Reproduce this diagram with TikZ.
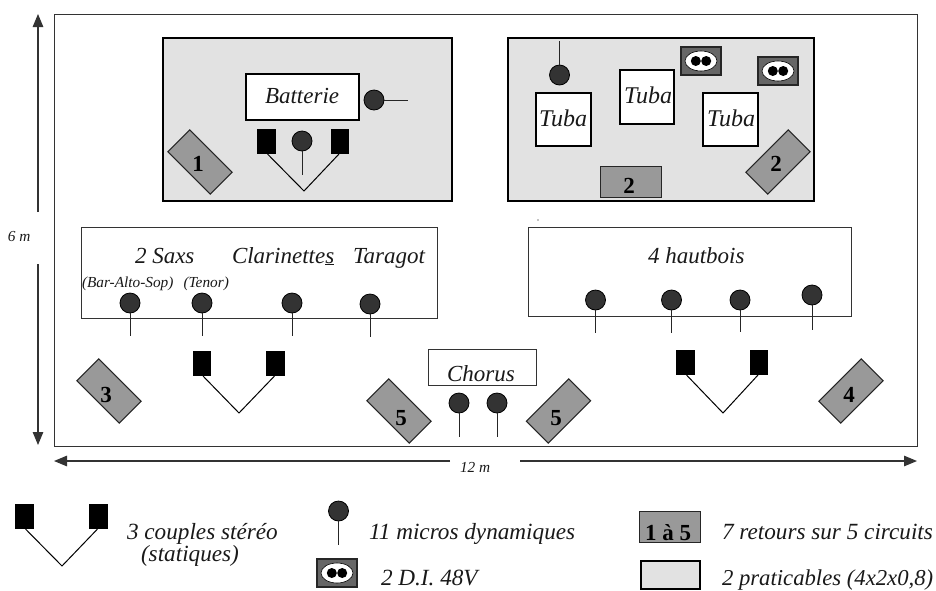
\documentclass[tikz,border=0pt]{standalone}
\usepackage{fontspec}
\setmainfont{Liberation Serif}
\usetikzlibrary{arrows.meta,shapes.geometric}
\definecolor{platgray}{HTML}{E2E2E2}
\definecolor{retgray}{HTML}{999999}
\definecolor{digray}{HTML}{666666}
\definecolor{micfill}{HTML}{333333}
\definecolor{linegray}{HTML}{333333}
\tikzset{
  stagebox/.style={draw=linegray,line width=1pt,fill=white,inner sep=0pt,outer sep=0pt},
  platbox/.style={draw=black,line width=2pt,fill=platgray,inner sep=0pt,outer sep=0pt},
  whitebox/.style={draw=black,line width=1.7pt,fill=white,inner sep=0pt,outer sep=0pt},
  retbox/.style={draw=black!85,line width=1pt,fill=retgray,inner sep=0pt,outer sep=0pt},
  dibox/.style={draw=black!85,line width=1.2pt,fill=digray,inner sep=0pt,outer sep=0pt},
  diewl/.style={ellipse,fill=white,draw=black,line width=.6pt,minimum width=32pt,minimum height=20pt,inner sep=0pt},
  didot/.style={circle,fill=black,minimum size=10pt,inner sep=0pt},
  micnode/.style={circle,draw=black,line width=.8pt,fill=micfill,minimum size=20pt,inner sep=0pt,outer sep=0pt},
  wire/.style={draw=black!85,line width=1pt},
  statsq/.style={fill=black,inner sep=0pt,outer sep=0pt,minimum width=18.5pt,minimum height=25pt},
  vee/.style={draw=black,line width=1pt},
  dimarrow/.style={draw=linegray,line width=1.2pt,-{Triangle[length=13pt,width=10.5pt]}},
  lab/.style={anchor=base west,inner sep=0pt,outer sep=0pt,font=\fontsize{23}{24}\selectfont\itshape,text=black!90},
  leglab/.style={lab,font=\fontsize{23.2}{24}\selectfont\itshape},
  praclab/.style={lab,font=\fontsize{22.7}{24}\selectfont\itshape},
  tubalab/.style={lab,font=\fontsize{24}{24}\selectfont\itshape},
  smalllab/.style={anchor=base west,inner sep=0pt,outer sep=0pt,font=\fontsize{15.3}{16}\selectfont\itshape,text=black!90},
  numlab/.style={inner sep=0pt,outer sep=0pt,font=\fontsize{23}{24}\selectfont\bfseries,text=black},
}
\newcommand{\bx}[6]{\node[#1,minimum width={(#5-(#3))*1pt},minimum height={(#6-(#4))*1pt}] (#2) at ({(#3+#5)/2},{(#4+#6)/2}) {};}
\newcommand{\micro}[5]{\node[micnode] (#1) at (#2,#3) {};\coordinate (#1e) at (#4,#5);\draw[wire] (#1) -- (#1e);}
\newcommand{\stereo}[6]{% name, cx-left, cx-right, top, apexx, apexy
  \node[statsq,anchor=north] (#1l) at (#2,#4) {};
  \node[statsq,anchor=north] (#1r) at (#3,#4) {};
  \coordinate (#1a) at (#5,#6);
  \draw[vee,line join=miter] ([xshift=1pt]#1l.south) -- (#1a) -- ([xshift=-1pt]#1r.south);}
\newcommand{\dibx}[3]{% name, x1, y1
  \bx{dibox}{#1}{#2}{#3}{#2+40}{#3+28}
  \node[diewl] (#1w) at (#1) {};
  \node[didot] (#1a) at ([xshift=-5.2pt]#1) {};
  \node[didot] (#1b) at ([xshift=5.2pt]#1) {};}
\newcommand{\retour}[5]{% name, cx, cy, angle, digit(with pos in caller)
  \node[retbox,rotate=#4,minimum width=60pt,minimum height=31pt] (#1) at (#2,#3) {};}
\begin{document}
\begin{tikzpicture}[x=1pt,y=-1pt]
\useasboundingbox (0,0) rectangle (936,590);
% stage
\bx{stagebox}{stage}{54}{14}{917}{446}
% dimension arrows
\coordinate (vtop) at (38,14); \coordinate (vup) at (38,212);
\coordinate (vdown) at (38,264); \coordinate (vbot) at (38,445);
\draw[dimarrow] (vup) -- (vtop);
\draw[dimarrow] (vdown) -- (vbot);
\coordinate (hl) at (54,461); \coordinate (hlin) at (450,461);
\coordinate (hrin) at (520,461); \coordinate (hr) at (917,461);
\draw[dimarrow] (hlin) -- (hl);
\draw[dimarrow] (hrin) -- (hr);
\node[smalllab] (six) at (8,241) {6 m};
\node[smalllab] (twelve) at (460,472) {12 m};
% platform 1
\bx{platbox}{plat1}{163}{38}{452}{201}
\bx{whitebox}{batt}{246}{74}{359}{120}
\node[lab] (battl) at (265,103) {Batterie};
\micro{mb}{374}{100}{408}{100}
\micro{mc}{302}{141}{302}{175}
\stereo{sa}{266.5}{340}{129}{304}{191}
\retour{r1}{200}{162}{-45}{}
\node[numlab] (n1) at (198,164) {1};
% platform 2
\bx{platbox}{plat2}{508}{38}{814}{201}
\micro{mt}{559.5}{75}{559.5}{41}
\bx{whitebox}{tu1}{536}{93}{591}{146}
\bx{whitebox}{tu2}{620}{70}{674}{124}
\bx{whitebox}{tu3}{703}{93}{758}{146}
\node[tubalab] (tu1l) at (539,126) {Tuba};
\node[tubalab] (tu2l) at (624,103) {Tuba};
\node[tubalab] (tu3l) at (707,126) {Tuba};
\dibx{dia}{681}{47}
\dibx{dib}{758}{57}
\bx{retbox}{r2a}{600}{166}{661}{197}
\node[numlab] (n2a) at (629,186) {2};
\retour{r2b}{778}{162}{45}{}
\node[numlab] (n2b) at (776,164) {2};
% speck
\node[circle,fill=black,minimum size=1.2pt,inner sep=0pt] (speck) at (538,220) {};
% front boxes
\bx{stagebox}{saxbox}{81}{227}{437}{318}
\bx{stagebox}{hautbox}{528}{227}{851}{316}
\node[lab] (saxl) at (135,263) {2 Saxs};
\node[lab] (clar) at (232,263) {Clarinette\underline{s}};
\node[lab] (tara) at (353,263) {Taragot};
\node[smalllab] (bas) at (82,287) {(Bar-Alto-Sop)};
\node[smalllab] (ten) at (183.5,287) {(Tenor)};
\node[lab] (haut) at (648,263) {4 hautbois};
\micro{m1}{130}{303}{130}{336}
\micro{m2}{202}{303}{202}{336}
\micro{m3}{292}{303}{292}{336}
\micro{m4}{370}{304}{370}{337}
\micro{m5}{595.5}{300}{595.5}{333}
\micro{m6}{671.5}{300}{671.5}{333}
\micro{m7}{740}{300}{740}{332}
\micro{m8}{812}{295}{812}{330}
\stereo{sb}{202}{275.5}{351}{239}{413}
\stereo{sc}{685.5}{759}{350}{723}{413}
\retour{r3}{109}{391}{-45}{}
\node[numlab] (n3) at (106,395) {3};
\retour{r5a}{399}{411}{-45}{}
\node[numlab] (n5a) at (401,418) {5};
\retour{r5b}{558.5}{411}{45}{}
\node[numlab] (n5b) at (556,418) {5};
\retour{r4}{851}{391}{45}{}
\node[numlab] (n4) at (849,395) {4};
% chorus
\bx{stagebox}{chor}{428}{349}{536}{385}
\node[lab] (chorl) at (447,381) {Chorus};
\micro{m9}{459}{403}{459}{437}
\micro{m10}{497}{403}{497}{437}
% legend
\stereo{sl}{24.5}{98.5}{504}{62}{566}
\node[leglab] (lg1) at (127,539) {3 couples stéréo};
\node[leglab] (lg1b) at (141,561) {(statiques)};
\micro{ml}{338.5}{511}{338.5}{545}
\node[leglab] (lg2) at (369,539) {11 micros dynamiques};
\dibx{dic}{317}{559}
\node[leglab] (lg3) at (381,585) {2 D.I. 48V};
\bx{retbox}{rl}{639}{511}{700}{542}
\node[numlab,anchor=base west] (rll) at (645,540) {1 à 5};
\node[leglab] (lg4) at (722,539) {7 retours sur 5 circuits};
\bx{platbox}{pl}{641}{561}{700}{589}
\node[praclab] (lg5) at (722,585) {2 praticables (4x2x0,8)};
\end{tikzpicture}
\end{document}
